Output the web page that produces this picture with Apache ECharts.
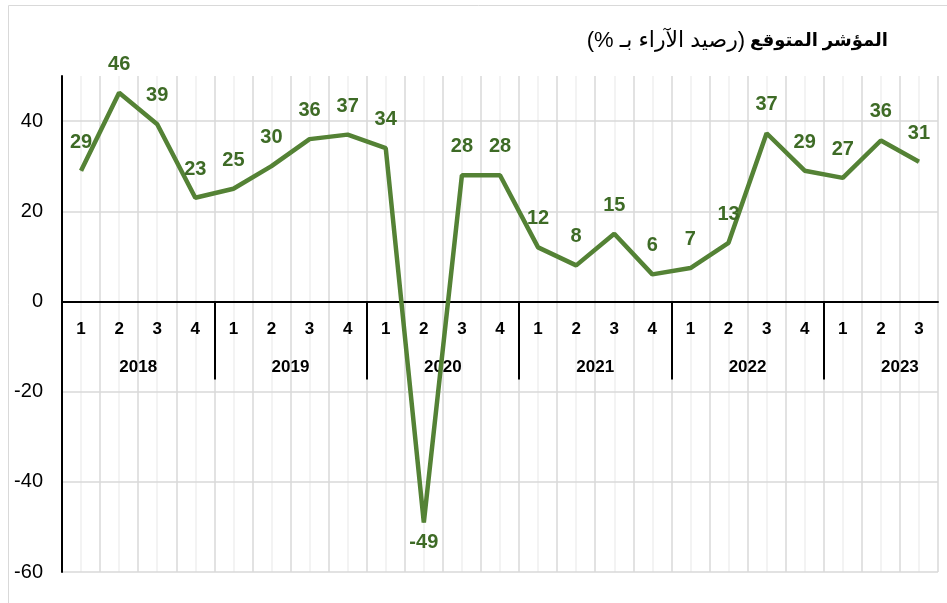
<!DOCTYPE html>
<html>
<head>
<meta charset="utf-8">
<script src="https://cdn.jsdelivr.net/npm/echarts@6/dist/echarts.min.js"></script>
<style>
    html, body { margin: 0; padding: 0; background: #fff; }
    #chart { width: 947px; height: 603px; }
</style>
</head>
<body>
<div id="chart"></div>
<script>
(function() {
    'use strict';

    // quarters of each year, 2018 Q1 .. 2023 Q3
    var quarters = ['1', '2', '3', '4', '1', '2', '3', '4', '1', '2', '3', '4',
                    '1', '2', '3', '4', '1', '2', '3', '4', '1', '2', '3'];
    var years = ['2018', '2019', '2020', '2021', '2022', '2023'];

    // رصيد الآراء (%)
    var balance = [29, 46.3, 39.3, 23, 25, 30, 36, 37, 34, -49, 28, 28,
                   12, 8, 15, 6, 7.4, 13, 37.3, 29, 27.4, 35.7, 31];

    var yTicks = { min: -60, max: 50, step: 20 };

    var titleBold = 'المؤشر المتوقع';
    var titleRest = '(رصيد الآراء بـ %)';

    var green = '#548235';
    var labelGreen = '#3e6b26';

    // grid box, px
    var gridTop = 76, gridBottom = 31;
    var gridH = 603 - gridTop - gridBottom;
    // the category axes sit on the zero line
    var zeroOffset = -gridH * (0 - yTicks.min) / (yTicks.max - yTicks.min);

    // year axis: one slot per quarter boundary, year name at the middle of its 4 quarters
    var yearSlots = [];
    for (var i = 0; i <= quarters.length; i++) {
        yearSlots.push(i % 4 === 2 ? years[(i - 2) / 4] : '');
    }

    var seriesData = balance.map(function(v) {
        if (v < 0) {
            return { value: v, label: { position: 'bottom', distance: 10 } };
        }
        return v;
    });

    var myChart = echarts.init(document.getElementById('chart'));

    myChart.setOption({
        animation: false,
        title: {
            text: '{r|\u202B' + titleRest + '\u202C} {b|' + titleBold + '}',
            right: 54,
            top: 25,
            textStyle: {
                fontWeight: 'normal',
                rich: {
                    b: { fontFamily: 'Arial, "DejaVu Sans"', fontWeight: 'bold', fontSize: 18, color: '#000' },
                    r: { fontFamily: 'Arial, "DejaVu Sans"', fontWeight: 'normal', fontSize: 22, color: '#000' }
                }
            }
        },
        graphic: [{
            type: 'rect',
            shape: { x: 8.5, y: 5.5, width: 960, height: 620 },
            style: { fill: 'none', stroke: '#d9d9d9', lineWidth: 1 },
            silent: true
        }],
        grid: { left: 62, right: 9, top: gridTop, bottom: gridBottom },
        xAxis: [{
            type: 'category',
            data: quarters,
            boundaryGap: true,
            position: 'bottom',
            offset: zeroOffset,
            axisLine: { onZero: false, lineStyle: { color: '#000', width: 2 } },
            axisTick: { show: false },
            axisLabel: {
                interval: 0,
                margin: 19,
                fontFamily: 'Arial',
                fontWeight: 'bold',
                fontSize: 17,
                color: '#000'
            },
            splitLine: { show: false }
        }, {
            type: 'category',
            data: yearSlots,
            boundaryGap: false,
            position: 'bottom',
            offset: zeroOffset,
            axisLine: { show: false, onZero: false },
            axisTick: {
                show: true,
                length: 78,
                interval: function(index) { return index % 4 === 0 && index < quarters.length; },
                lineStyle: { color: '#000', width: 2 }
            },
            axisLabel: {
                interval: function(index) { return index % 4 === 2; },
                margin: 57,
                fontFamily: 'Arial',
                fontWeight: 'bold',
                fontSize: 17,
                color: '#000'
            },
            splitLine: { show: false }
        }, {
            // only gives the vertical grid: boundaries and quarter middles
            type: 'value',
            min: 0,
            max: quarters.length,
            interval: 1,
            position: 'bottom',
            z: -1,
            axisLine: { show: false, onZero: false },
            axisTick: { show: false },
            axisLabel: { show: false },
            minorTick: { show: false, splitNumber: 2 },
            splitLine: { show: true, lineStyle: { color: '#d9d9d9', width: 1.5 } },
            minorSplitLine: { show: true, lineStyle: { color: '#efefef', width: 1.5 } }
        }],
        yAxis: {
            type: 'value',
            min: yTicks.min,
            max: yTicks.max,
            interval: yTicks.step,
            axisLine: { show: true, onZero: false, lineStyle: { color: '#000', width: 2 } },
            axisTick: { show: false },
            axisLabel: {
                showMaxLabel: false,
                margin: 19,
                fontFamily: 'Arial',
                fontSize: 20,
                color: '#000'
            },
            splitLine: {
                show: true,
                lineStyle: {
                    color: ['#d9d9d9', '#d9d9d9', '#d9d9d9', '#d9d9d9', '#d9d9d9', '#d9d9d9', 'rgba(0,0,0,0)'],
                    width: 1.5
                }
            }
        },
        series: [{
            type: 'line',
            xAxisIndex: 0,
            data: seriesData,
            symbol: 'circle',
            symbolSize: 1,
            showSymbol: true,
            lineStyle: { color: green, width: 4.5 },
            itemStyle: { color: green },
            label: {
                show: true,
                position: 'top',
                distance: 18,
                fontFamily: 'Arial',
                fontWeight: 'bold',
                fontSize: 20,
                color: labelGreen,
                formatter: function(p) { return Math.round(p.value); }
            },
            labelLayout: { hideOverlap: false },
            z: 5
        }]
    });
})();
</script>
</body>
</html>
